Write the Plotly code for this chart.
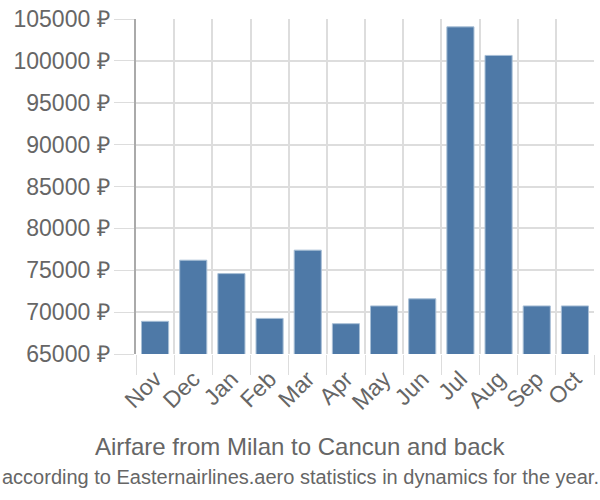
import plotly.graph_objects as go

months = ["Nov", "Dec", "Jan", "Feb", "Mar", "Apr", "May", "Jun", "Jul", "Aug", "Sep", "Oct"]
prices = [68900, 76200, 74600, 69250, 77400, 68620, 70740, 71590, 104060, 100650, 70740, 70740]
y_ticks = [65000, 70000, 75000, 80000, 85000, 90000, 95000, 100000, 105000]
y_labels = [f"{v} ₽" for v in y_ticks]

fig = go.Figure()

fig.add_trace(go.Bar(
    x=months,
    y=prices,
    marker=dict(color="#4e79a7", line=dict(color="#a8bfd6", width=1)),
))

# подписи под графиком
fig.add_annotation(
    x=0.5, y=-0.275, xref="paper", yref="paper", xshift=-65,
    text="Airfare from Milan to Cancun and back",
    showarrow=False, xanchor="center", yanchor="middle",
    font=dict(family="Liberation Sans, Arial", size=24, color="#666666"),
)
fig.add_annotation(
    x=0.5, y=-0.368, xref="paper", yref="paper", xshift=-65,
    text="according to Easternairlines.aero statistics in dynamics for the year.",
    showarrow=False, xanchor="center", yanchor="middle",
    font=dict(family="Liberation Sans, Arial", size=20, color="#666666"),
)

fig.update_layout(
    width=600,
    height=500,
    margin=dict(l=136, r=6, t=14, b=146),
    plot_bgcolor="white",
    paper_bgcolor="white",
    bargap=0.29,
    showlegend=False,
    font=dict(family="Liberation Sans, Arial", size=21, color="#666666"),
)
fig.update_xaxes(
    tickson="boundaries",
    showgrid=True,
    gridcolor="#dddddd",
    gridwidth=1.5,
    ticks="outside",
    ticklen=20,
    tickcolor="#dddddd",
    tickangle=-45,
    ticklabelstandoff=6,
    tickfont=dict(size=23),
)
fig.update_yaxes(
    range=[65000, 105000],
    tickvals=y_ticks,
    ticktext=y_labels,
    showgrid=True,
    gridcolor="#dddddd",
    gridwidth=1.5,
    ticks="outside",
    ticklen=20,
    tickcolor="#dddddd",
    showline=True,
    linecolor="#aaaaaa",
    linewidth=1.5,
    zeroline=False,
    tickfont=dict(size=23),
)

fig.write_html(
    "out.html",
    config={"displayModeBar": False},
    post_script="document.body.style.margin='0';",
)
